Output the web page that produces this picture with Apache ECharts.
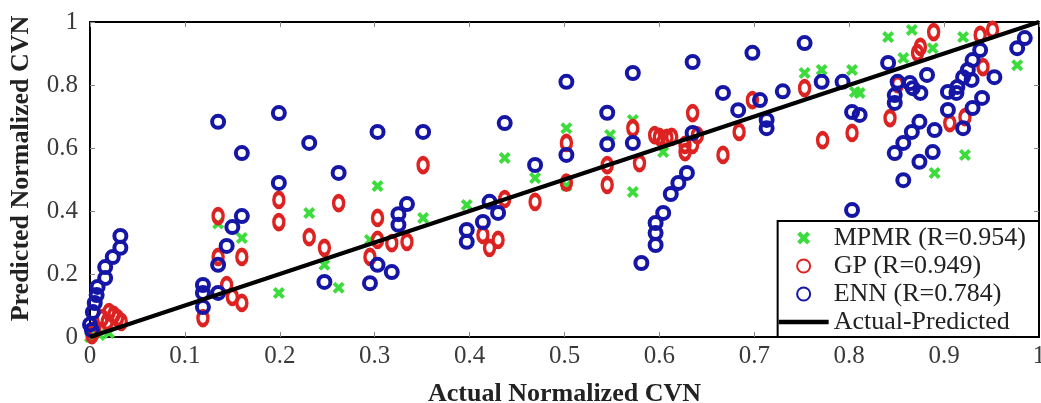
<!DOCTYPE html>
<html>
<head>
<meta charset="utf-8">
<script src="https://cdn.jsdelivr.net/npm/echarts@6/dist/echarts.min.js"></script>
<style>html,body{margin:0;padding:0;background:#fff;}#chart{width:1041px;height:403px;}</style>
</head>
<body>
<div id="chart"></div>
<script>
// ---- data ----
const xTickValues = [0, 0.1, 0.2, 0.3, 0.4, 0.5, 0.6, 0.7, 0.8, 0.9, 1];
const yTickValues = [0, 0.2, 0.4, 0.6, 0.8, 1];
const seriesNames = ['MPMR (R=0.954)', 'GP (R=0.949)', 'ENN (R=0.784)', 'Actual-Predicted'];
const xAxisTitle = 'Actual Normalized CVN';
const yAxisTitle = 'Predicted Normalized CVN';

const mpmrPoints = [
  [0.0,0.0],[0.01,0.006],[0.02,0.013],[0.135,0.36],[0.160,0.314],[0.199,0.14],[0.231,0.394],
  [0.247,0.229],[0.262,0.156],[0.295,0.308],[0.303,0.479],[0.351,0.378],[0.397,0.419],
  [0.437,0.568],[0.469,0.505],[0.502,0.663],[0.502,0.48],[0.548,0.641],[0.572,0.689],
  [0.572,0.460],[0.604,0.587],[0.753,0.838],[0.771,0.848],[0.803,0.848],[0.811,0.775],
  [0.806,0.778],[0.841,0.952],[0.866,0.975],[0.857,0.886],[0.888,0.917],[0.920,0.952],
  [0.890,0.521],[0.922,0.578],[0.977,0.863]
];
const gpPoints = [
  [0.013,0.06],[0.02,0.079],[0.029,0.06],[0.033,0.048],[0.018,0.048],[0.005,0.022],[0.002,0.006],[0.025,0.07],
  [0.135,0.384],[0.160,0.254],[0.135,0.254],[0.144,0.165],[0.150,0.127],[0.160,0.108],[0.119,0.060],
  [0.199,0.435],[0.199,0.365],[0.231,0.317],[0.247,0.283],[0.262,0.425],
  [0.351,0.546],[0.303,0.378],[0.303,0.308],[0.318,0.298],[0.334,0.302],[0.295,0.254],
  [0.469,0.429],[0.437,0.438],[0.414,0.324],[0.430,0.308],[0.421,0.283],
  [0.502,0.616],[0.502,0.49],[0.545,0.546],[0.545,0.483],
  [0.572,0.663],[0.579,0.552],
  [0.595,0.641],[0.600,0.635],[0.608,0.632],[0.613,0.635],[0.627,0.610],[0.635,0.610],[0.627,0.587],[0.640,0.64],[0.635,0.711],
  [0.667,0.578],[0.684,0.651],[0.698,0.752],
  [0.753,0.790],[0.772,0.625],[0.803,0.648],
  [0.889,0.968],[0.875,0.921],[0.872,0.902],[0.851,0.803],[0.843,0.695],[0.906,0.679],[0.922,0.698],
  [0.941,0.857],[0.938,0.959],[0.951,0.975]
];
const ennPoints = [
  [0.032,0.321],[0.032,0.283],[0.024,0.254],[0.016,0.222],[0.016,0.187],[0.008,0.159],[0.007,0.133],[0.005,0.108],[0.003,0.079],[0.0,0.04],[0.002,0.022],
  [0.135,0.683],[0.160,0.584],[0.160,0.384],[0.150,0.349],[0.144,0.289],[0.135,0.229],[0.119,0.165],[0.119,0.140],[0.135,0.140],[0.119,0.095],
  [0.199,0.711],[0.199,0.489],[0.231,0.616],[0.247,0.175],[0.262,0.521],
  [0.303,0.651],[0.351,0.651],[0.334,0.422],[0.325,0.390],[0.325,0.356],[0.303,0.229],[0.318,0.206],[0.295,0.171],
  [0.437,0.679],[0.469,0.546],[0.421,0.429],[0.430,0.394],[0.414,0.365],[0.397,0.340],[0.397,0.302],
  [0.502,0.810],[0.502,0.578],[0.545,0.712],[0.545,0.612],
  [0.572,0.838],[0.572,0.616],
  [0.629,0.521],[0.620,0.489],[0.612,0.454],[0.604,0.394],[0.596,0.362],[0.596,0.330],[0.596,0.292],[0.581,0.235],
  [0.635,0.873],[0.635,0.648],
  [0.667,0.775],[0.683,0.720],[0.698,0.902],[0.706,0.752],[0.713,0.689],[0.713,0.663],[0.730,0.780],
  [0.753,0.933],[0.771,0.810],[0.793,0.810],[0.803,0.714],[0.811,0.705],[0.803,0.403],
  [0.841,0.870],[0.851,0.810],[0.848,0.768],[0.848,0.743],[0.864,0.806],[0.867,0.790],[0.875,0.775],[0.882,0.832],
  [0.848,0.584],[0.857,0.616],[0.866,0.651],[0.874,0.683],[0.890,0.657],[0.888,0.587],[0.874,0.556],[0.857,0.498],
  [0.904,0.778],[0.913,0.775],[0.914,0.794],[0.920,0.825],[0.925,0.848],[0.930,0.879],[0.938,0.911],[0.929,0.816],
  [0.904,0.721],[0.940,0.759],[0.930,0.727],[0.920,0.663],[0.953,0.825],[0.977,0.917],[0.985,0.949]
];
const idealLine = [[0, 0], [1, 1]];

// ---- styling ----
const serif = "'Liberation Serif', 'Times New Roman', serif";
const crossPath = 'path://M0,2.3L2.3,0L5,2.7L7.7,0L10,2.3L7.3,5L10,7.7L7.7,10L5,7.3L2.3,10L0,7.7L2.7,5Z';
const lineIcon = 'path://M0,0L0,0M0,4.2L50,4.2L50,8.8L0,8.8ZM0,13L0,13';

const chart = echarts.init(document.getElementById('chart'), null, {renderer: 'canvas'});
const axisBase = {
  type: 'value', min: 0, max: 1,
  axisLine: {show: true, onZero: false, lineStyle: {color: '#000', width: 2}},
  splitLine: {show: false},
  axisTick: {show: true, inside: true, length: 5, lineStyle: {color: '#888', width: 1}}
};
chart.setOption({
  animation: false,
  backgroundColor: '#fff',
  grid: {left: 90, right: 2, top: 22, bottom: 66, containLabel: false, outerBoundsMode: 'none'},
  xAxis: [
    Object.assign({}, axisBase, {
      position: 'bottom', interval: 0.1,
      axisLabel: {show: true, margin: 7, fontFamily: serif, fontSize: 25, color: '#3a3a3a',
        formatter: v => { const t = xTickValues.find(k => Math.abs(k - v) < 1e-6); return t === undefined ? '' : String(t); }},
      name: xAxisTitle, nameLocation: 'middle', nameGap: 44,
      nameTextStyle: {fontFamily: serif, fontSize: 26, fontWeight: 'bold', color: '#222'}
    }),
    Object.assign({}, axisBase, {position: 'top', interval: 0.1, axisLabel: {show: false}})
  ],
  yAxis: [
    Object.assign({}, axisBase, {
      position: 'left', interval: 0.2,
      axisLabel: {show: true, margin: 12, fontFamily: serif, fontSize: 25, color: '#3a3a3a',
        formatter: v => { const t = yTickValues.find(k => Math.abs(k - v) < 1e-6); return t === undefined ? '' : String(t); }},
      name: yAxisTitle, nameLocation: 'middle', nameGap: 56,
      nameTextStyle: {fontFamily: serif, fontSize: 26, fontWeight: 'bold', color: '#222', padding: [0, 0, 0, 22]}
    }),
    Object.assign({}, axisBase, {position: 'right', interval: 0.2, axisLabel: {show: false}})
  ],
  legend: {
    orient: 'vertical', right: 2, bottom: 66,
    itemWidth: 50, itemHeight: 13, itemGap: 2,
    padding: [4, 13, 2, 1],
    borderColor: '#000', borderWidth: 2, backgroundColor: '#fff',
    textStyle: {fontFamily: serif, fontSize: 26, color: '#222'},
    data: [
      {name: seriesNames[0]},
      {name: seriesNames[1]},
      {name: seriesNames[2]},
      {name: seriesNames[3], icon: lineIcon, itemStyle: {color: '#000'}}
    ]
  },
  series: [
    {
      name: seriesNames[0], type: 'scatter', data: mpmrPoints, z: 2,
      symbol: crossPath, symbolSize: 12, symbolKeepAspect: true,
      itemStyle: {color: '#3ddc3d', opacity: 1}
    },
    {
      name: seriesNames[1], type: 'scatter', data: gpPoints, z: 3,
      symbol: 'circle', symbolSize: [10, 14],
      itemStyle: {color: 'rgba(0,0,0,0)', borderColor: '#dd2222', borderWidth: 4, opacity: 1}
    },
    {
      name: seriesNames[2], type: 'scatter', data: ennPoints, z: 4,
      symbol: 'circle', symbolSize: 12,
      itemStyle: {color: 'rgba(0,0,0,0)', borderColor: '#1616a6', borderWidth: 4, opacity: 1}
    },
    {
      name: seriesNames[3], type: 'line', data: idealLine, z: 5,
      symbol: 'none', showSymbol: false,
      lineStyle: {color: '#000', width: 4}, itemStyle: {color: '#000'}
    }
  ]
});
</script>
</body>
</html>
